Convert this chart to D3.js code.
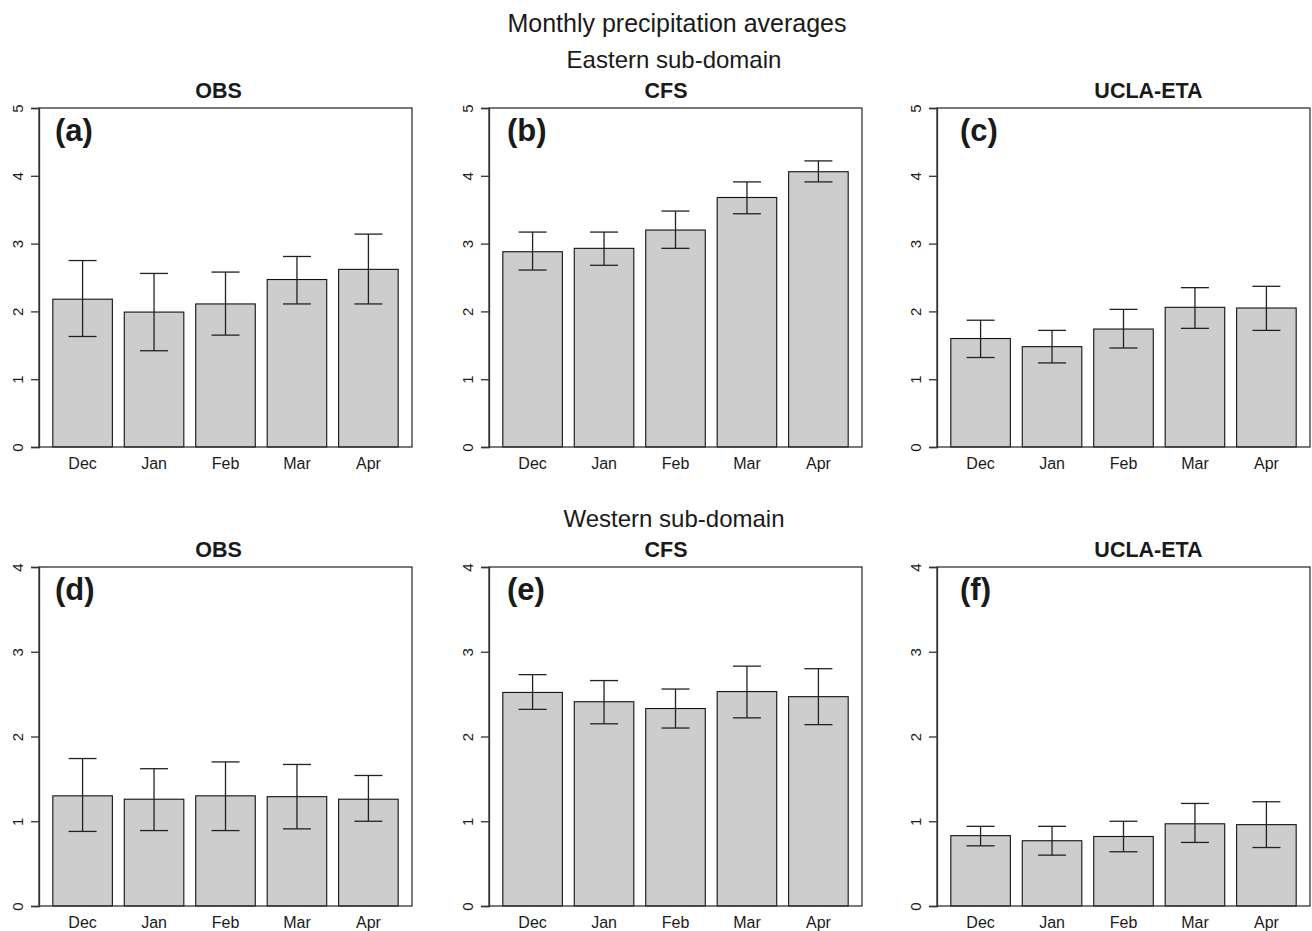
<!DOCTYPE html>
<html>
<head>
<meta charset="utf-8">
<script src="https://cdn.jsdelivr.net/npm/d3@7"></script>
<style>
  body { margin: 0; background: #fff; }
  svg { display: block; font-family: "Liberation Sans", Arial, Helvetica, sans-serif; }
</style>
</head>
<body>
<div id="chart"></div>
<script>
// monthly precipitation averages, 6 panels (east / west x OBS / CFS / UCLA-ETA)

const months = ["Dec", "Jan", "Feb", "Mar", "Apr"];
const models = ["OBS", "CFS", "UCLA-ETA"];
const panelLetters = ["(a)", "(b)", "(c)", "(d)", "(e)", "(f)"];
const regions = ["Eastern sub-domain", "Western sub-domain"];
const yMaxByRegion = [5, 4];

// Eastern sub-domain
const obsEastMean = [2.18, 1.99, 2.11, 2.47, 2.62];
const obsEastLow  = [1.63, 1.42, 1.65, 2.11, 2.11];
const obsEastHigh = [2.75, 2.56, 2.58, 2.81, 3.14];

const cfsEastMean = [2.88, 2.93, 3.20, 3.68, 4.06];
const cfsEastLow  = [2.61, 2.68, 2.93, 3.44, 3.91];
const cfsEastHigh = [3.17, 3.17, 3.48, 3.91, 4.22];

const etaEastMean = [1.60, 1.48, 1.74, 2.06, 2.05];
const etaEastLow  = [1.32, 1.24, 1.46, 1.75, 1.72];
const etaEastHigh = [1.87, 1.72, 2.03, 2.35, 2.37];

// Western sub-domain
const obsWestMean = [1.30, 1.26, 1.30, 1.29, 1.26];
const obsWestLow  = [0.88, 0.89, 0.89, 0.91, 1.00];
const obsWestHigh = [1.74, 1.62, 1.70, 1.67, 1.54];

const cfsWestMean = [2.52, 2.41, 2.33, 2.53, 2.47];
const cfsWestLow  = [2.32, 2.15, 2.10, 2.22, 2.14];
const cfsWestHigh = [2.73, 2.66, 2.56, 2.83, 2.80];

const etaWestMean = [0.83, 0.77, 0.82, 0.97, 0.96];
const etaWestLow  = [0.71, 0.60, 0.64, 0.75, 0.69];
const etaWestHigh = [0.94, 0.94, 1.00, 1.21, 1.23];

const panelSeries = [
    [obsEastMean, obsEastLow, obsEastHigh],
    [cfsEastMean, cfsEastLow, cfsEastHigh],
    [etaEastMean, etaEastLow, etaEastHigh],
    [obsWestMean, obsWestLow, obsWestHigh],
    [cfsWestMean, cfsWestLow, cfsWestHigh],
    [etaWestMean, etaWestLow, etaWestHigh]
];

// layout
const width = 1312, height = 931;
const boxW = 373, boxH = 339;
const colLeft = [39, 489, 937];
const rowTop = [108, 567];
const titleCenter = [218.5, 666, 1148.5];
const letterOffset = [16, 18, 23];
const fillGrey = "#cdcdcd";
const lineCol = "#222";

const svg = d3.select("#chart")
    .append("svg")
    .attr("width", width)
    .attr("height", height);

svg.append("text")
    .attr("x", 677)
    .attr("y", 32)
    .attr("text-anchor", "middle")
    .style("font-size", "25px")
    .style("fill", "#1a1a1a")
    .text("Monthly precipitation averages");

regions.forEach((r, ri) => {
    svg.append("text")
        .attr("x", 674)
        .attr("y", rowTop[ri] - 40)
        .attr("text-anchor", "middle")
        .style("font-size", "24px")
        .style("fill", "#1a1a1a")
        .text(r);
});

// barplot-like x scale: bar width 1, space 0.2, 4% padding on each side
const nBars = months.length;
const xLo = 0.2, xHi = 1.2 * nBars;
const xPad = (xHi - xLo) * 0.04;
const x = d3.scaleLinear()
    .domain([xLo - xPad, xHi + xPad])
    .range([0, boxW]);

const capHalf = 14;

panelSeries.forEach((series, p) => {
    const ri = Math.floor(p / 3), ci = p % 3;
    const [means, lows, highs] = series;
    const yMax = yMaxByRegion[ri];

    const y = d3.scaleLinear()
        .domain([0, yMax])
        .range([boxH, 0]);

    const data = months.map((m, i) => ({
        month: m, i: i, mean: means[i], low: lows[i], high: highs[i]
    }));

    const g = svg.append("g")
        .attr("transform", `translate(${colLeft[ci]},${rowTop[ri]})`);

    // bars
    g.selectAll("rect.bar")
        .data(data)
        .join("rect")
        .attr("class", "bar")
        .attr("x", d => x(0.2 + 1.2 * d.i))
        .attr("width", d => x(1.2 + 1.2 * d.i) - x(0.2 + 1.2 * d.i))
        .attr("y", d => y(d.mean))
        .attr("height", d => y(0) - y(d.mean))
        .attr("fill", fillGrey)
        .attr("stroke", "#111")
        .attr("stroke-width", 1.1);

    // error bars
    const cx = d => x(0.7 + 1.2 * d.i);
    const err = g.selectAll("g.err")
        .data(data)
        .join("g")
        .attr("class", "err")
        .attr("stroke", lineCol)
        .attr("stroke-width", 1.3);

    err.append("line")
        .attr("x1", cx).attr("x2", cx)
        .attr("y1", d => y(d.low)).attr("y2", d => y(d.high));
    err.append("line")
        .attr("x1", d => cx(d) - capHalf).attr("x2", d => cx(d) + capHalf)
        .attr("y1", d => y(d.high)).attr("y2", d => y(d.high));
    err.append("line")
        .attr("x1", d => cx(d) - capHalf).attr("x2", d => cx(d) + capHalf)
        .attr("y1", d => y(d.low)).attr("y2", d => y(d.low));

    // box
    g.append("rect")
        .attr("x", 0).attr("y", 0)
        .attr("width", boxW).attr("height", boxH)
        .attr("fill", "none")
        .attr("stroke", "#333")
        .attr("stroke-width", 1.3);

    // y axis, labels rotated like R's default
    const yAxis = g.append("g")
        .call(d3.axisLeft(y)
            .tickValues(d3.range(0, yMax + 1))
            .tickFormat(d3.format("d"))
            .tickSize(8)
            .tickPadding(0))
        .attr("font-size", 15)
        .attr("font-family", "'Liberation Sans', Arial, sans-serif");
    yAxis.select(".domain").attr("stroke", "#333").attr("stroke-width", 1.3);
    yAxis.selectAll(".tick line").attr("stroke", "#333").attr("stroke-width", 1.3);
    yAxis.selectAll(".tick text")
        .attr("x", 0)
        .attr("dy", "0em")
        .attr("transform", "translate(-16,0) rotate(-90)")
        .attr("text-anchor", "middle")
        .attr("font-size", 15)
        .attr("fill", "#1a1a1a");

    // month labels
    g.selectAll("text.month")
        .data(data)
        .join("text")
        .attr("class", "month")
        .attr("x", cx)
        .attr("y", boxH + 22)
        .attr("text-anchor", "middle")
        .style("font-size", "16px")
        .style("fill", "#1a1a1a")
        .text(d => d.month);

    // panel title
    svg.append("text")
        .attr("x", titleCenter[ci])
        .attr("y", rowTop[ri] - 10.5)
        .attr("text-anchor", "middle")
        .style("font-size", "21.5px")
        .style("font-weight", "bold")
        .style("fill", "#1a1a1a")
        .text(models[ci]);

    // panel letter
    g.append("text")
        .attr("x", letterOffset[ci])
        .attr("y", 33)
        .style("font-size", "31px")
        .style("font-weight", "bold")
        .style("fill", "#1a1a1a")
        .text(panelLetters[p]);
});
</script>
</body>
</html>
